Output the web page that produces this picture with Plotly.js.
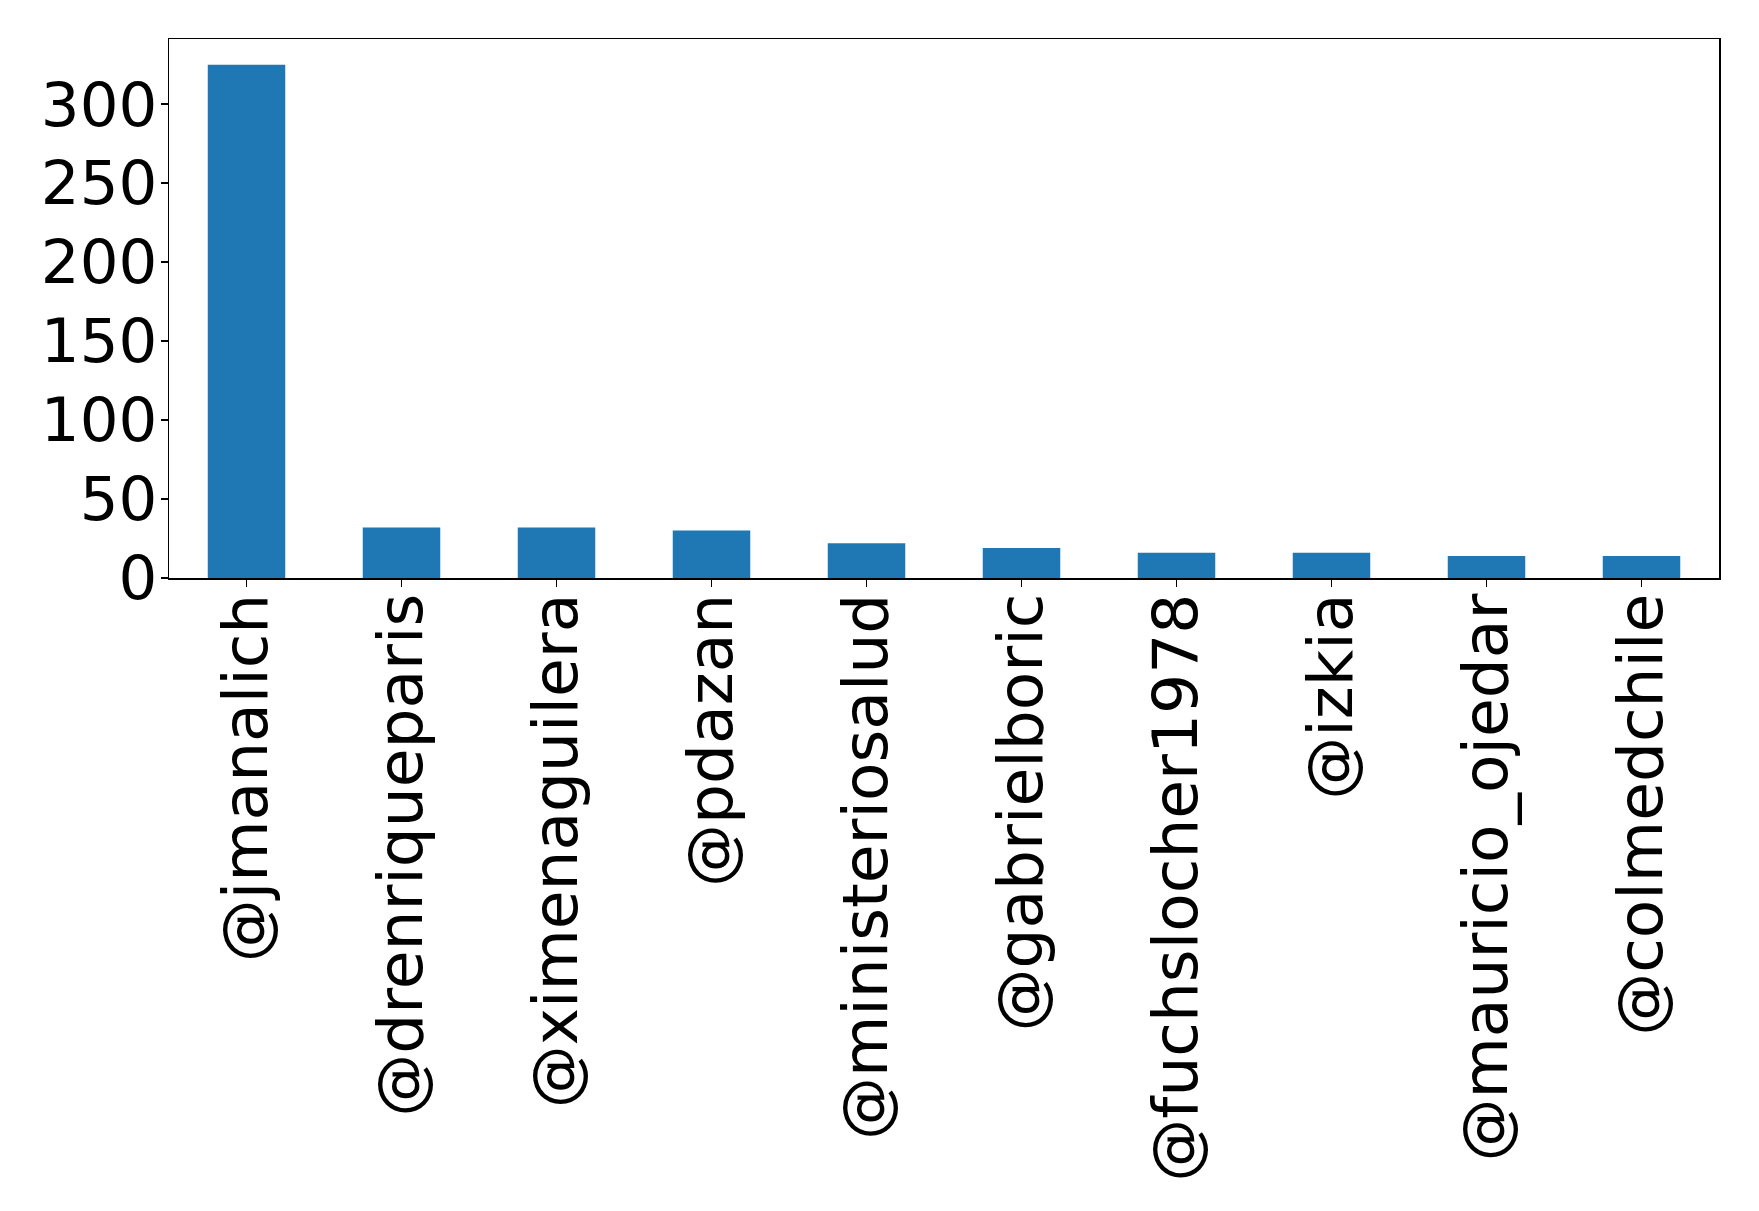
<!DOCTYPE html>
<html>
<head>
<meta charset="utf-8">
<script src="https://cdn.plot.ly/plotly-3.0.1.min.js"></script>
<style>html,body{margin:0;padding:0;background:#fff;}#chart{width:1759px;height:1211px;}</style>
</head>
<body>
<div id="chart"></div>
<script>
const categories = ["@jmanalich", "@drenriqueparis", "@ximenaguilera", "@pdazan", "@ministeriosalud", "@gabrielboric", "@fuchslocher1978", "@izkia", "@mauricio_ojedar", "@colmedchile"];
const counts = [325, 32, 32, 30, 22, 19, 16, 16, 14, 14];
const yTicks = [0, 50, 100, 150, 200, 250, 300];

const trace = {
  type: "bar",
  x: categories,
  y: counts,
  width: 0.5,
  marker: {color: "#1f77b4", line: {width: 0}},
  hoverinfo: "x+y"
};

const layout = {
  width: 1759,
  height: 1211,
  margin: {l: 169, r: 40, t: 39, b: 633, pad: 0},
  paper_bgcolor: "#ffffff",
  plot_bgcolor: "#ffffff",
  showlegend: false,
  font: {family: "DejaVu Sans", size: 63, color: "#000000"},
  xaxis: {
    type: "category",
    range: [-0.5, 9.5],
    tickangle: -90,
    ticks: "outside",
    ticklen: 7,
    tickwidth: 1.5,
    tickcolor: "#000",
    ticklabelstandoff: -18,
    showline: true,
    linecolor: "#000",
    linewidth: 1.5,
    mirror: true,
    showgrid: false,
    zeroline: false,
    automargin: false,
    tickfont: {family: "DejaVu Sans", size: 63, color: "#000"}
  },
  yaxis: {
    range: [0, 341.25],
    tickvals: yTicks,
    ticktext: yTicks.map(String),
    ticks: "outside",
    ticklen: 7,
    tickwidth: 1.5,
    tickcolor: "#000",
    ticklabelstandoff: -9,
    showline: true,
    linecolor: "#000",
    linewidth: 1.5,
    mirror: true,
    showgrid: false,
    zeroline: false,
    automargin: false,
    tickfont: {family: "DejaVu Sans", size: 61, color: "#000"}
  }
};

Plotly.newPlot("chart", [trace], layout, {displayModeBar: false, staticPlot: true});
</script>
</body>
</html>
